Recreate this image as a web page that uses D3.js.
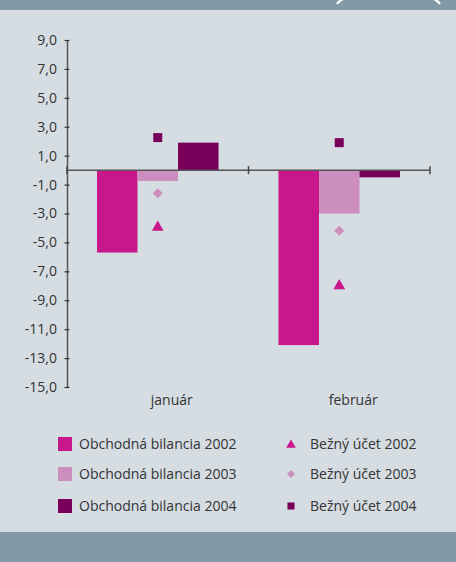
<!DOCTYPE html>
<html><head><meta charset="utf-8">
<script src="https://cdn.jsdelivr.net/npm/d3@7"></script>
<style>html,body{margin:0;padding:0;background:#D5DDE3;}svg{display:block;}</style>
</head><body>
<script>
const categories = ["január", "február"];
const barSeries = ["Obchodná bilancia 2002", "Obchodná bilancia 2003", "Obchodná bilancia 2004"];
const barValues = [
  [-5.7, -12.1],
  [-0.75, -3.0],
  [1.9, -0.5]
];
const markerSeries = ["Bežný účet 2002", "Bežný účet 2003", "Bežný účet 2004"];
const markerValues = [
  [-3.95, -8.0],
  [-1.6, -4.2],
  [2.25, 1.9]
];
const yTicks = [9, 7, 5, 3, 1, -1, -3, -5, -7, -9, -11, -13, -15];
const colors = ["#C8178A", "#CB8EBF", "#79005A"];

const W = 456, H = 562;
const svg = d3.select("body").append("svg").attr("width", W).attr("height", H);
svg.append("rect").attr("width", W).attr("height", H).attr("fill", "#D5DDE3");
svg.append("rect").attr("width", W).attr("height", 10).attr("fill", "#8399A6");
svg.append("rect").attr("y", 532).attr("width", W).attr("height", 30).attr("fill", "#8399A6");
svg.append("path").attr("d", "M343,-1 Q339,1 337,4 M434,-1 Q438,1 440,4")
  .attr("fill", "none").attr("stroke", "#fff").attr("stroke-width", 2.2);

const font = "'Open Sans', sans-serif";
const y = d3.scaleLinear().domain([-15, 9]).range([387, 40]);
const x = d3.scaleBand().domain(categories).range([67, 430]).paddingInner(0).paddingOuter(0);
const inner = d3.scaleBand().domain(d3.range(3)).range([0, x.bandwidth()]).paddingOuter(0.74).paddingInner(0);

// bars
barSeries.forEach((s, i) => {
  svg.append("g").selectAll("rect").data(barValues[i]).join("rect")
    .attr("x", (d, j) => x(categories[j]) + inner(i))
    .attr("width", inner.bandwidth())
    .attr("y", d => Math.min(y(d), y(0)))
    .attr("height", d => Math.abs(y(d) - y(0)))
    .attr("fill", colors[i]);
});

// y axis
const yAxis = d3.axisLeft(y).tickValues(yTicks).tickSize(0).tickPadding(10)
  .tickFormat(d => d3.format(".1f")(d).replace(".", ",").replace("−", "-"));
const gy = svg.append("g").attr("transform", "translate(67,0)").call(yAxis);
gy.select(".domain").attr("stroke", "#555").attr("stroke-width", 1.5);
gy.selectAll(".tick line").remove();
gy.selectAll(".tick").append("line").attr("x1", -2.5).attr("x2", 2.5).attr("stroke", "#333").attr("stroke-width", 1.2);
gy.selectAll(".tick text").attr("font-family", font).attr("font-size", 14).attr("fill", "#333");

// x axis at zero
const gx = svg.append("g").attr("transform", `translate(0,${y(0)})`);
gx.append("line").attr("x1", 67).attr("x2", 430).attr("stroke", "#555").attr("stroke-width", 1.5);
const bounds = [67, ...categories.map(c => x(c) + x.bandwidth())];
gx.selectAll("line.tk").data(bounds).join("line").attr("class", "tk")
  .attr("x1", d => d).attr("x2", d => d).attr("y1", -4).attr("y2", 4)
  .attr("stroke", "#444").attr("stroke-width", 1.5);

svg.append("g").selectAll("text").data(categories).join("text")
  .attr("x", d => x(d) + x.bandwidth() / 2 + 14)
  .attr("y", 405)
  .attr("text-anchor", "middle")
  .attr("font-family", font).attr("font-size", 14).attr("fill", "#333")
  .text(d => d);

// markers
const symTypes = [d3.symbolTriangle, d3.symbolSquare, d3.symbolSquare];
const symRot = [0, 45, 0];
const symSizes = [60, 50, 81];
markerSeries.forEach((s, i) => {
  svg.append("g").selectAll("path").data(markerValues[i]).join("path")
    .attr("transform", (d, j) => `translate(${x(categories[j]) + x.bandwidth() / 2},${y(d)}) rotate(${symRot[i]})`)
    .attr("d", d3.symbol().type(symTypes[i]).size(symSizes[i]))
    .attr("fill", colors[i]);
});

// legend
const rowsY = [444, 474, 506];
const lg = svg.append("g");
barSeries.forEach((s, i) => {
  lg.append("rect").attr("x", 58).attr("y", rowsY[i] - 7).attr("width", 14).attr("height", 14).attr("fill", colors[i]);
  lg.append("text").attr("x", 79).attr("y", rowsY[i]).attr("dy", "0.35em")
    .attr("font-family", font).attr("font-size", 14).attr("fill", "#333").text(s);
});
const lgSizes = [40, 32, 50];
markerSeries.forEach((s, i) => {
  lg.append("path").attr("transform", `translate(291,${rowsY[i] + (i === 0 ? 1 : 0)}) rotate(${symRot[i]})`)
    .attr("d", d3.symbol().type(symTypes[i]).size(lgSizes[i])).attr("fill", colors[i]);
  lg.append("text").attr("x", 310).attr("y", rowsY[i]).attr("dy", "0.35em")
    .attr("font-family", font).attr("font-size", 14).attr("fill", "#333").text(s);
});
</script>
</body></html>
